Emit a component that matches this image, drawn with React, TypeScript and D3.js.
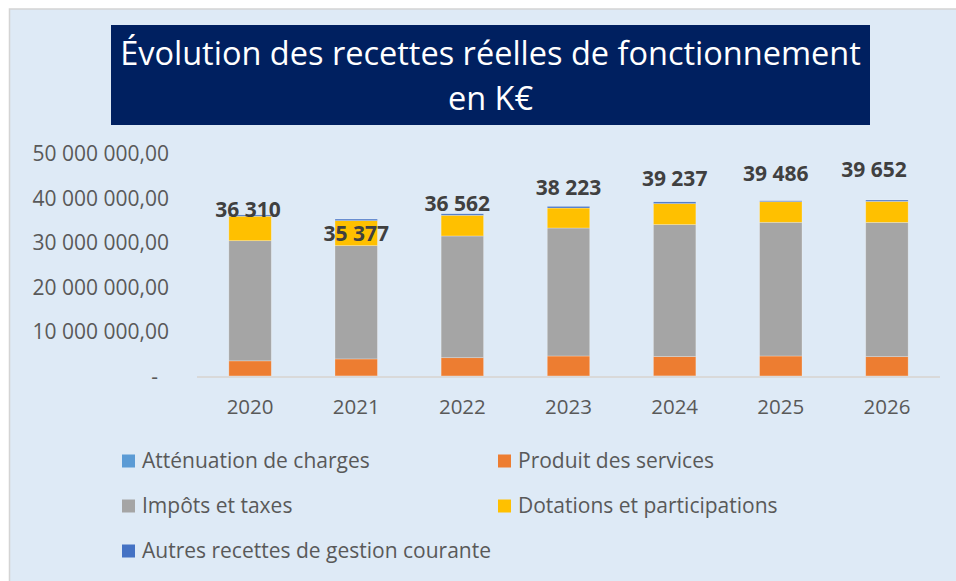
import React from "react";
import * as d3 from "d3";

// values in K€
const years = ["2020", "2021", "2022", "2023", "2024", "2025", "2026"];
const attenuation = [120, 130, 120, 120, 140, 120, 120];
const produits = [3400, 3820, 4110, 4490, 4340, 4490, 4340];
const impots = [27000, 25460, 27350, 28760, 29660, 30040, 30170];
const dotations = [5500, 5620, 4650, 4490, 4720, 4630, 4720];
const autres = [290, 347, 332, 363, 377, 206, 302];
const yTicks = [0, 10000000, 20000000, 30000000, 40000000, 50000000];

const seriesNames = [
  "Atténuation de charges",
  "Produit des services",
  "Impôts et taxes",
  "Dotations et participations",
  "Autres recettes de gestion courante",
];
const colors = ["#5B9BD5", "#ED7D31", "#A5A5A5", "#FFC000", "#4472C4"];

// hand placed total labels (dx, dy from bar top), as in the original
const labelNudge = [
  [-2, 2],
  [0, 22],
  [-5, -3],
  [0, -11],
  [0, -16],
  [-5, -20],
  [-13, -23],
];

const FONT = "'Open Sans', sans-serif";
const GREY = "#595959";

const keys = ["attenuation", "produits", "impots", "dotations", "autres"];
const rows = years.map((y, i) => ({
  year: y,
  attenuation: attenuation[i] * 1000,
  produits: produits[i] * 1000,
  impots: impots[i] * 1000,
  dotations: dotations[i] * 1000,
  autres: autres[i] * 1000,
}));

const fmtTick = (v: number) =>
  v === 0 ? "-" : d3.format(",.2f")(v).replace(/,/g, " ").replace(".", ",");
const fmtTotal = (v: number) =>
  d3.format(",")(Math.round(v / 1000)).replace(/,/g, " ");

export default function App() {
  const x = d3
    .scaleBand()
    .domain(years)
    .range([197, 940])
    .paddingInner(0.6)
    .paddingOuter(0.3);

  const y = d3.scaleLinear().domain([0, 50000000]).range([376.5, 154]);

  const stacked = d3.stack<any>().keys(keys)(rows);
  const totals = rows.map((r) => keys.reduce((s, k) => s + r[k], 0));

  const legendPos = [
    [122, 461],
    [498, 461],
    [122, 506],
    [498, 506],
    [122, 551],
  ];

  return (
    <svg
      width={970}
      height={590}
      style={{ position: "fixed", left: 8, top: 8, display: "block" }}
      fontFamily={FONT}
    >
      <g transform="translate(-8,-8)">
        <rect
          x={9.5}
          y={9}
          width={990}
          height={620}
          fill="#DEEAF6"
          stroke="#d4d4d4"
          strokeWidth={1.5}
        />

        {/* title */}
        <rect x={111} y={25} width={759} height={100} fill="#002060" />
        <text
          x={490.5}
          y={65}
          textAnchor="middle"
          fill="#ffffff"
          fontSize={32.5}
        >
          Évolution des recettes réelles de fonctionnement
        </text>
        <text
          x={490.5}
          y={110}
          textAnchor="middle"
          fill="#ffffff"
          fontSize={32.5}
        >
          en K€
        </text>

        {/* y axis labels */}
        {yTicks.map((t) => (
          <text
            key={t}
            x={t === 0 ? 158 : 169}
            y={y(t)}
            dy="0.35em"
            textAnchor="end"
            fill={GREY}
            fontSize={21}
          >
            {fmtTick(t)}
          </text>
        ))}

        {/* bars */}
        {stacked.map((s, si) => (
          <g key={s.key} fill={colors[si]}>
            {s.map((d, i) => (
              <rect
                key={i}
                x={x(years[i])}
                y={y(d[1])}
                width={x.bandwidth()}
                height={Math.max(0, y(d[0]) - y(d[1]))}
                stroke="#ffffff"
                strokeOpacity={0.35}
                strokeWidth={0.75}
              />
            ))}
          </g>
        ))}

        {/* x axis */}
        <line
          x1={197}
          x2={940}
          y1={y(0) + 0.5}
          y2={y(0) + 0.5}
          stroke="#d9d9d9"
          strokeWidth={2}
        />
        {years.map((yr) => (
          <text
            key={yr}
            x={x(yr) + x.bandwidth() / 2}
            y={407}
            dy="0.35em"
            textAnchor="middle"
            fill={GREY}
            fontSize={20.5}
          >
            {yr}
          </text>
        ))}

        {/* total labels */}
        {totals.map((t, i) => (
          <text
            key={i}
            x={x(years[i]) + x.bandwidth() / 2 + labelNudge[i][0]}
            y={y(t) + labelNudge[i][1]}
            textAnchor="middle"
            fill="#404040"
            fontWeight="bold"
            fontSize={21}
          >
            {fmtTotal(t)}
          </text>
        ))}

        {/* legend */}
        {seriesNames.map((n, i) => (
          <g key={n} transform={`translate(${legendPos[i][0]},${legendPos[i][1]})`}>
            <rect x={0} y={-6.5} width={13} height={13} fill={colors[i]} />
            <text x={20} y={0} dy="0.35em" fill={GREY} fontSize={21}>
              {n}
            </text>
          </g>
        ))}
      </g>
    </svg>
  );
}
